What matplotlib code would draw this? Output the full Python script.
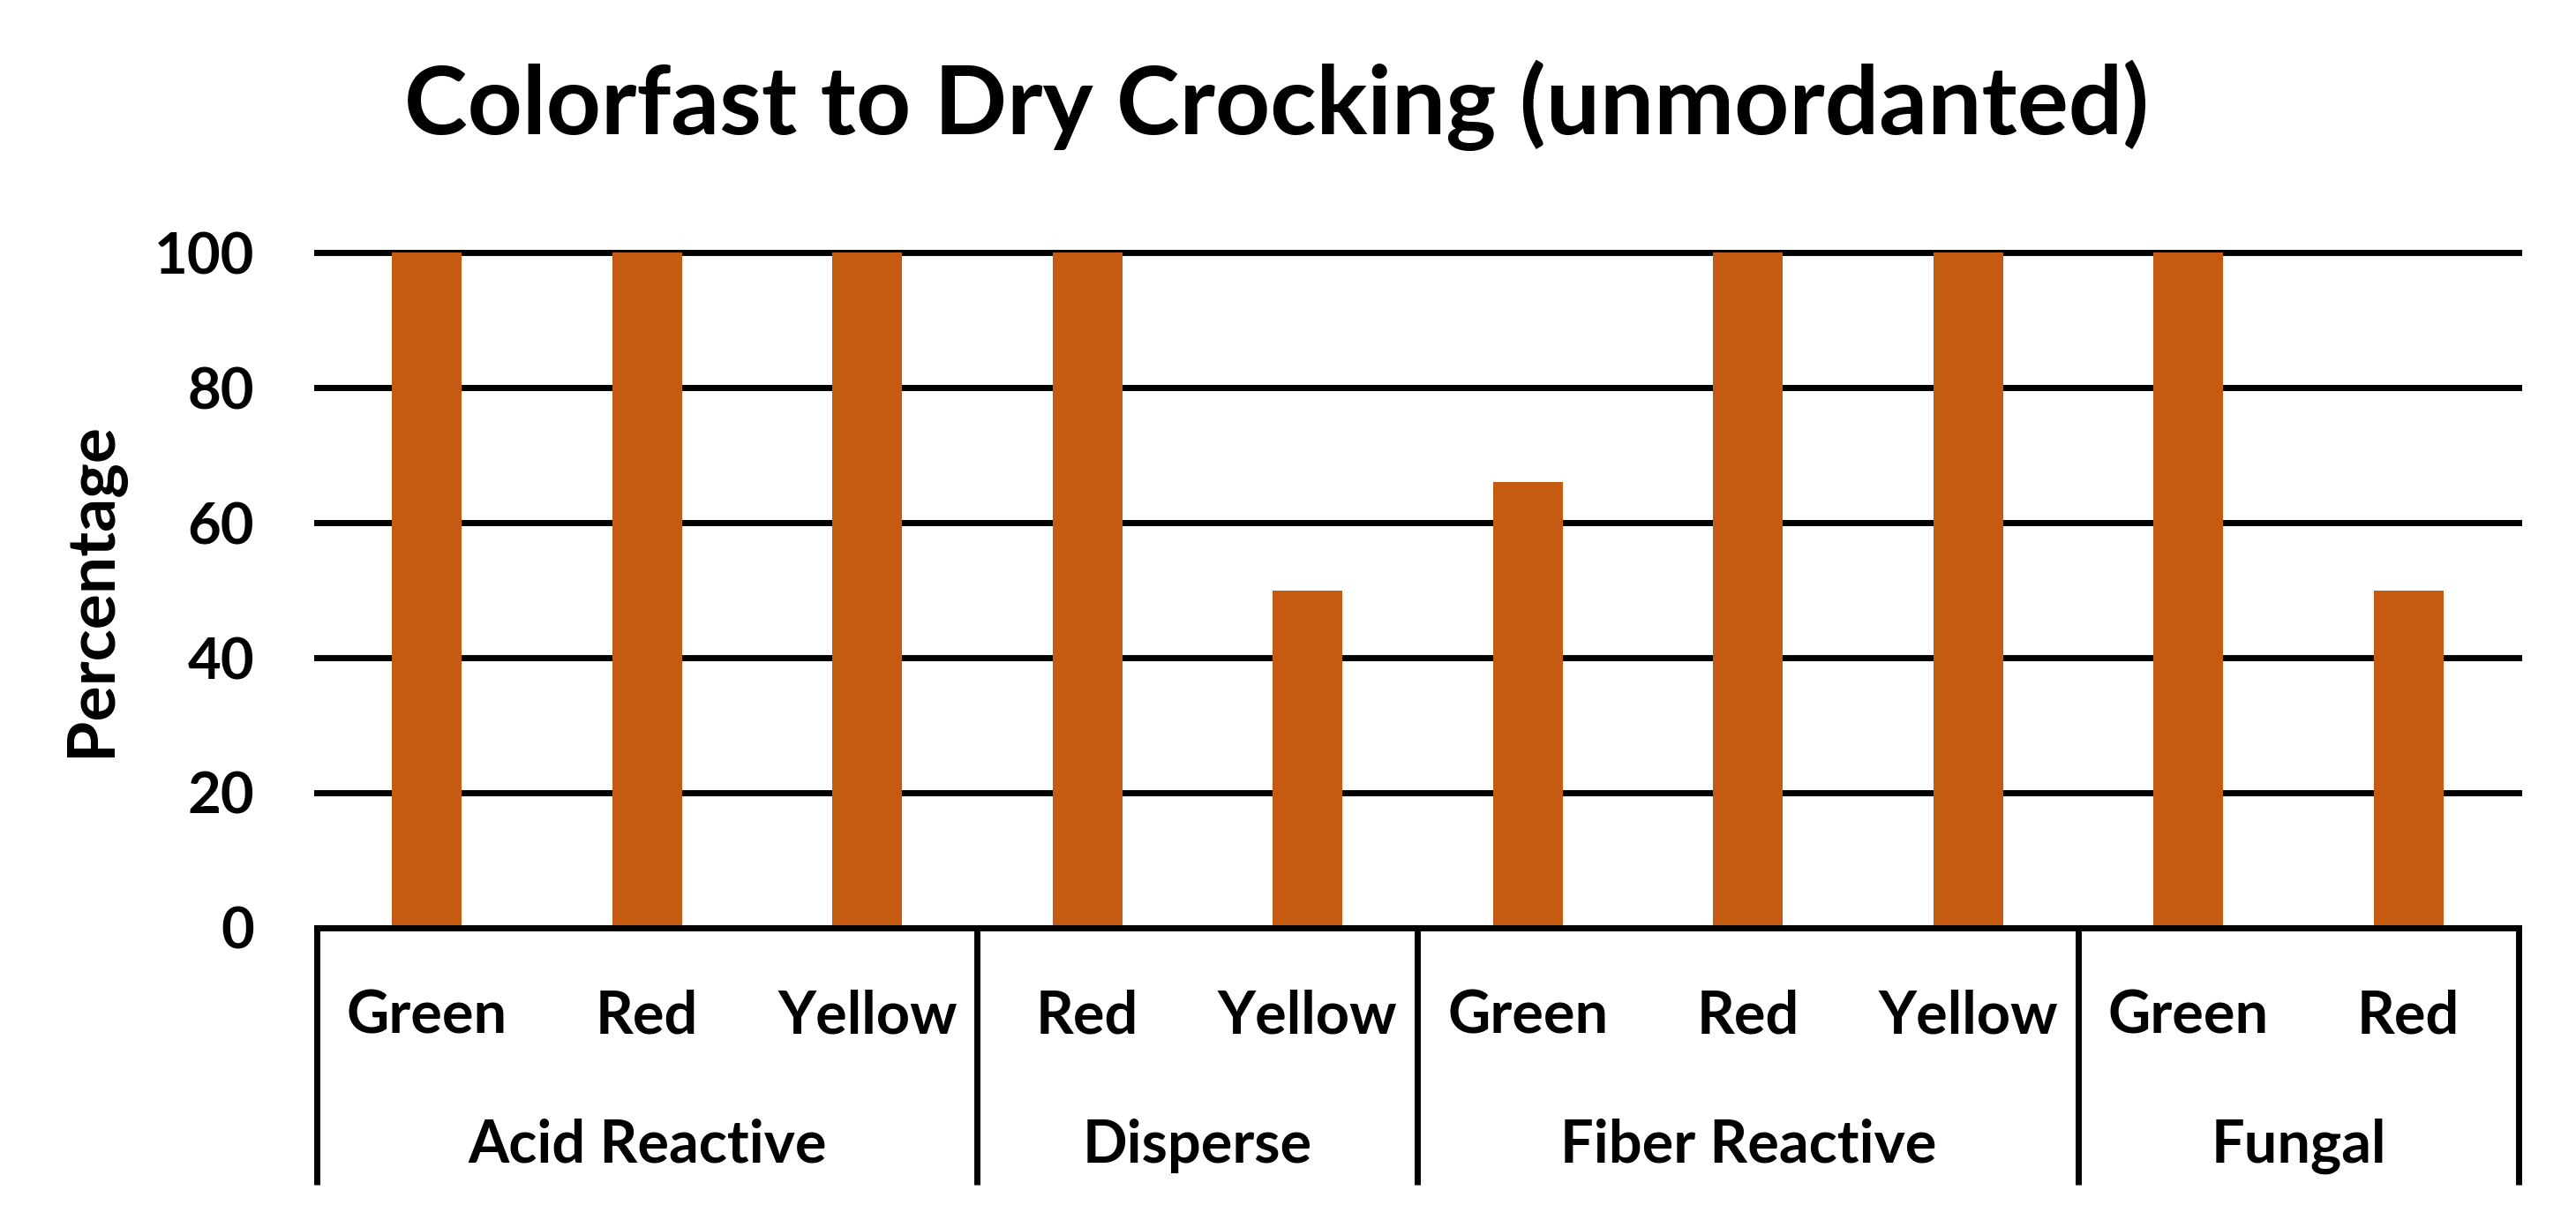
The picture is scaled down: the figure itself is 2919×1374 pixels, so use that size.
import matplotlib
matplotlib.use("Agg")
import matplotlib.pyplot as plt
import matplotlib.transforms as mtransforms
import numpy as np

plt.rcParams["font.family"] = ["Lato", "DejaVu Sans"]
plt.rcParams["font.weight"] = "bold"

# data
groups = ["Acid Reactive", "Disperse", "Fiber Reactive", "Fungal"]
dyes = [["Green", "Red", "Yellow"], ["Red", "Yellow"], ["Green", "Red", "Yellow"], ["Green", "Red"]]
values = [100, 100, 100, 100, 50, 66, 100, 100, 100, 50]
yticks = [0, 20, 40, 60, 80, 100]

bar_color = "#C55A11"
label_size = 48

fig = plt.figure(figsize=(29.19, 13.74), dpi=100)
ax = fig.add_axes([0.1230, 0.2351, 0.8547, 0.5567])

labels = [d for g in dyes for d in g]
x = np.arange(len(labels))
ax.bar(x, values, width=0.317, color=bar_color, zorder=3)

ax.set_xlim(-0.5, len(labels) - 0.5)
ax.set_ylim(0, 100)
ax.set_yticks(yticks)
ax.set_yticklabels([str(t) for t in yticks], fontsize=47, fontweight="bold")
ax.tick_params(axis="y", length=0, pad=51)
ax.set_xticks([])
ax.yaxis.grid(True, color="black", linewidth=5, zorder=0)
ax.set_axisbelow(True)
# keep the top gridline at full thickness
for gl in ax.get_ygridlines():
    gl.set_clip_on(False)

for s in ["top", "left", "right"]:
    ax.spines[s].set_visible(False)
ax.spines["bottom"].set_linewidth(5)
ax.spines["bottom"].set_zorder(4)

trans = mtransforms.blended_transform_factory(ax.transData, ax.transAxes)

# dye labels
for xi, lab in zip(x, labels):
    ax.text(xi, -0.1569, lab, transform=trans, ha="center", va="baseline",
            fontsize=label_size, fontweight="bold")

# group labels and separators
start = 0
bounds = [-0.5]
for g, d in zip(groups, dyes):
    mid = start + (len(d) - 1) / 2
    ax.text(mid, -0.3477, g, transform=trans, ha="center", va="baseline",
            fontsize=label_size, fontweight="bold")
    start += len(d)
    bounds.append(start - 0.5)

for b in bounds:
    ax.plot([b, b], [0, -0.380], transform=trans, color="black", linewidth=5,
            clip_on=False, solid_capstyle="butt")

fig.text(0.4954, 0.8894, "Colorfast to Dry Crocking (unmordanted)", ha="center",
         va="baseline", fontsize=78, fontweight="bold")
fig.text(0.0363, 0.514, "Percentage", rotation=90, ha="center", va="center",
         fontsize=54, fontweight="bold")

fig.savefig("out.png", dpi=100)
